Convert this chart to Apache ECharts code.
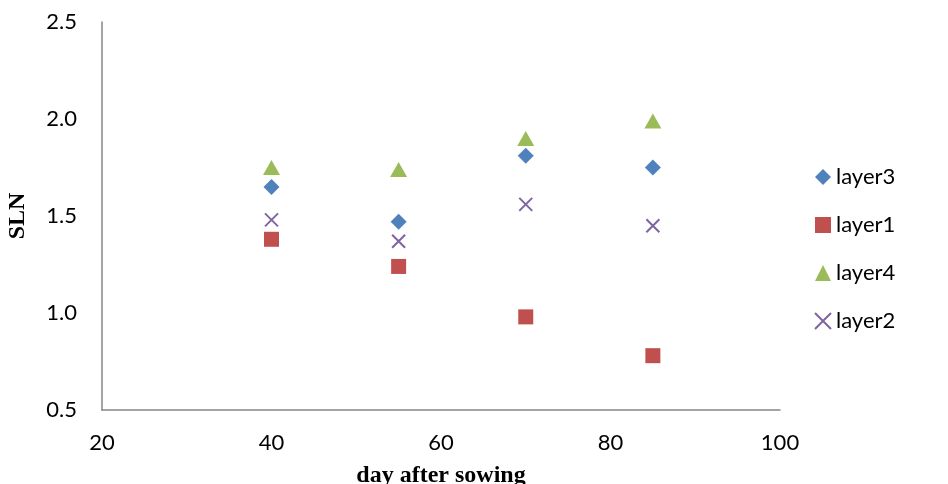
<!DOCTYPE html>
<html>
<head>
<meta charset="utf-8">
<script src="https://cdn.jsdelivr.net/npm/echarts@6/dist/echarts.min.js"></script>
<style>
  html, body { margin: 0; padding: 0; background: #fff; }
  #chart { width: 948px; height: 484px; }
</style>
</head>
<body>
<div id="chart"></div>
<script>
// days after sowing
var days = [40, 55, 70, 85];
// SLN per layer
var layer3 = [1.65, 1.47, 1.81, 1.75];
var layer1 = [1.38, 1.24, 0.98, 0.78];
var layer4 = [1.75, 1.74, 1.90, 1.99];
var layer2 = [1.48, 1.37, 1.56, 1.45];

var crossPath = 'path://M0,0L10,10M10,0L0,10';

function pairs(ys) {
    var out = [];
    for (var i = 0; i < days.length; i++) {
        out.push([days[i], ys[i]]);
    }
    return out;
}

var chart = echarts.init(document.getElementById('chart'));
var labelFont = 'Lato, "Open Sans", sans-serif';
var nameStyle = { fontFamily: '"Liberation Serif", serif', fontWeight: 'bold', fontSize: 24, color: '#000' };

var option = {
    animation: false,
    grid: {
        left: 102,
        right: 168,
        top: 22,
        bottom: 74,
        containLabel: false,
        outerBoundsMode: 'none'
    },
    legend: {
        orient: 'vertical',
        left: 809,
        top: 161,
        itemGap: 26,
        itemWidth: 16,
        itemHeight: 16,
        textStyle: { fontSize: 22, color: '#000', fontFamily: labelFont },
        data: ['layer3', 'layer1', 'layer4', 'layer2']
    },
    xAxis: {
        type: 'value',
        min: 20,
        max: 100,
        interval: 20,
        name: 'day after sowing',
        nameLocation: 'middle',
        nameGap: 54,
        nameTextStyle: nameStyle,
        axisLine: { show: true, lineStyle: { color: '#868686', width: 1.5 } },
        axisTick: { show: false },
        splitLine: { show: false },
        axisLabel: { fontSize: 22, color: '#000', margin: 22, fontFamily: labelFont }
    },
    yAxis: {
        type: 'value',
        min: 0.5,
        max: 2.5,
        interval: 0.5,
        name: 'SLN',
        nameLocation: 'middle',
        nameGap: 72,
        nameRotate: 90,
        nameTextStyle: nameStyle,
        axisLine: { show: true, lineStyle: { color: '#868686', width: 1.5 } },
        axisTick: { show: false },
        splitLine: { show: false },
        axisLabel: {
            fontSize: 22, color: '#000', margin: 25, fontFamily: labelFont,
            formatter: function (v) { return v.toFixed(1); }
        }
    },
    series: [
        {
            name: 'layer3', type: 'scatter', symbol: 'diamond', symbolSize: 16,
            itemStyle: { color: '#4F81BD', opacity: 1 },
            data: pairs(layer3)
        },
        {
            name: 'layer1', type: 'scatter', symbol: 'rect', symbolSize: 15,
            itemStyle: { color: '#C0504D', opacity: 1 },
            data: pairs(layer1)
        },
        {
            name: 'layer4', type: 'scatter', symbol: 'triangle', symbolSize: [17, 15],
            itemStyle: { color: '#9BBB59', opacity: 1 },
            data: pairs(layer4)
        },
        {
            name: 'layer2', type: 'scatter', symbol: crossPath, symbolSize: 13,
            itemStyle: { color: 'rgba(0,0,0,0)', borderColor: '#8064A2', borderWidth: 2, opacity: 1 },
            data: pairs(layer2)
        }
    ]
};

chart.setOption(option);
</script>
</body>
</html>
